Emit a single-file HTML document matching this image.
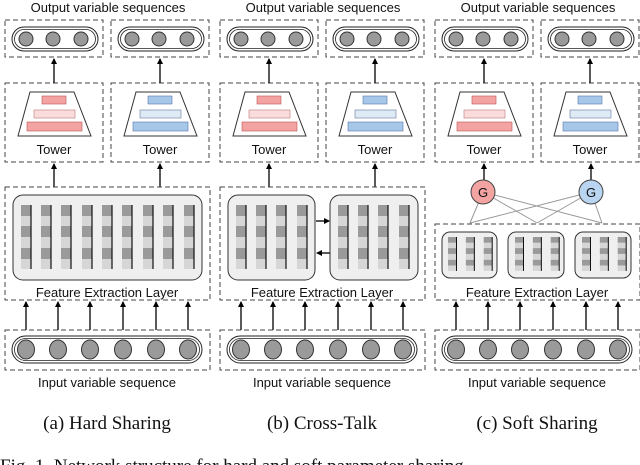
<!DOCTYPE html>
<html><head><meta charset="utf-8"><style>
html,body{margin:0;padding:0;background:#fff;width:640px;height:465px;overflow:hidden}
svg{display:block}
.t{font-family:"Liberation Sans",sans-serif;font-size:13px;fill:#111;text-anchor:middle}
.c{font-family:"Liberation Serif",serif;font-size:19px;fill:#111;text-anchor:middle}
</style></head><body>
<svg width="640" height="465" viewBox="0 0 640 465" xmlns="http://www.w3.org/2000/svg">
<defs>
<marker id="ah" markerWidth="6" markerHeight="6" refX="5" refY="3" orient="auto" markerUnits="userSpaceOnUse"><path d="M0,0 L6,3 L0,6 z" fill="#000"/></marker>
<g id="col">
<rect x="0" y="0" width="10" height="11" fill="#9a9a9a"/><rect x="0" y="11" width="10" height="10" fill="#d6d6d6"/>
<rect x="0" y="21" width="10" height="11" fill="#9a9a9a"/><rect x="0" y="32" width="10" height="11" fill="#d6d6d6"/>
<rect x="0" y="43" width="10" height="11" fill="#9a9a9a"/><rect x="0" y="54" width="10" height="10" fill="#d6d6d6"/>
<line x1="10" y1="0" x2="10" y2="64" stroke="#111" stroke-width="1.2"/>
</g>
<g id="outp">
<rect x="0" y="0" width="98" height="37" fill="none" stroke="#444" stroke-dasharray="5,3"/>
<rect x="7" y="7" width="86" height="24" rx="12" fill="#fff" stroke="#222"/>
<rect x="9.5" y="9.5" width="81" height="19" rx="9.5" fill="none" stroke="#222" stroke-width="0.8"/>
<circle cx="21" cy="19" r="7" fill="#9a9a9a" stroke="#333"/>
<circle cx="48" cy="19" r="7" fill="#9a9a9a" stroke="#333"/>
<circle cx="76" cy="19" r="7" fill="#9a9a9a" stroke="#333"/>
</g>
<g id="twbox">
<rect x="0" y="0" width="98" height="79" fill="none" stroke="#444" stroke-dasharray="5,3"/>
<path d="M25,9 L69,9 L86,53 L13,53 Z" fill="#fff" stroke="#333"/>
<text class="t" x="49" y="71">Tower</text>
</g>
<g id="inp">
<rect x="0" y="0" width="205" height="40" fill="none" stroke="#444" stroke-dasharray="5,3"/>
<rect x="7" y="6" width="190" height="27" rx="13.5" fill="#fff" stroke="#222"/>
<rect x="9.5" y="8.5" width="185" height="22" rx="11" fill="none" stroke="#222" stroke-width="0.8"/>
<ellipse cx="21" cy="19.5" rx="8.5" ry="9.5" fill="#9a9a9a" stroke="#333"/>
<ellipse cx="53" cy="19.5" rx="8.5" ry="9.5" fill="#9a9a9a" stroke="#333"/>
<ellipse cx="85" cy="19.5" rx="8.5" ry="9.5" fill="#9a9a9a" stroke="#333"/>
<ellipse cx="118" cy="19.5" rx="8.5" ry="9.5" fill="#9a9a9a" stroke="#333"/>
<ellipse cx="151" cy="19.5" rx="8.5" ry="9.5" fill="#9a9a9a" stroke="#333"/>
<ellipse cx="183" cy="19.5" rx="8.5" ry="9.5" fill="#9a9a9a" stroke="#333"/>
</g>
<g id="inarr" stroke="#000" stroke-width="1.3" marker-end="url(#ah)">
<line x1="21" y1="330" x2="21" y2="302"/><line x1="53" y1="330" x2="53" y2="302"/>
<line x1="85" y1="330" x2="85" y2="302"/><line x1="118" y1="330" x2="118" y2="302"/>
<line x1="151" y1="330" x2="151" y2="302"/><line x1="183" y1="330" x2="183" y2="302"/>
</g>
<g id="red">
<rect x="37" y="13" width="24" height="8" fill="#f4a3a3" stroke="#b55" stroke-width="0.6"/>
<rect x="29" y="27" width="41" height="8" fill="#fbdcdc" stroke="#b77" stroke-width="0.6"/>
<rect x="22" y="39" width="55" height="9" fill="#f4a3a3" stroke="#b55" stroke-width="0.6"/>
</g>
<g id="blue">
<rect x="37" y="13" width="24" height="8" fill="#a6c7e8" stroke="#57a" stroke-width="0.6"/>
<rect x="29" y="27" width="41" height="8" fill="#deebf7" stroke="#679" stroke-width="0.6"/>
<rect x="22" y="39" width="55" height="9" fill="#a6c7e8" stroke="#57a" stroke-width="0.6"/>
</g>
<g id="upper">
<text class="t" x="103" y="12">Output variable sequences</text>
<use href="#outp" x="0" y="20"/><use href="#outp" x="106" y="20"/>
<use href="#twbox" x="0" y="83"/><use href="#twbox" x="106" y="83"/>
<use href="#red" x="0" y="83"/><use href="#blue" x="106" y="83"/>
<g stroke="#000" stroke-width="1.3" marker-end="url(#ah)">
<line x1="49" y1="83" x2="49" y2="59"/><line x1="155" y1="83" x2="155" y2="59"/>
</g>
</g>
</defs>

<!-- Panel a -->
<use href="#upper" x="5" y="0"/>
<g stroke="#000" stroke-width="1.3" marker-end="url(#ah)">
<line x1="54" y1="187" x2="54" y2="164"/><line x1="160" y1="187" x2="160" y2="164"/>
</g>
<rect x="5" y="187" width="205" height="113" fill="none" stroke="#444" stroke-dasharray="5,3"/>
<rect x="13" y="195" width="189" height="85" rx="10" fill="#efefef" stroke="#333"/>
<use href="#col" x="21" y="205"/><use href="#col" x="41" y="205"/><use href="#col" x="61" y="205"/>
<use href="#col" x="82" y="205"/><use href="#col" x="102" y="205"/><use href="#col" x="122" y="205"/>
<use href="#col" x="143" y="205"/><use href="#col" x="163" y="205"/><use href="#col" x="184" y="205"/>
<text class="t" x="107" y="297">Feature Extraction Layer</text>
<use href="#inarr" x="5" y="0"/>
<use href="#inp" x="5" y="330"/>
<text class="t" x="107" y="387">Input variable sequence</text>
<text class="c" x="107" y="429">(a)  Hard Sharing</text>

<!-- Panel b -->
<use href="#upper" x="220" y="0"/>
<g stroke="#000" stroke-width="1.3" marker-end="url(#ah)">
<line x1="269" y1="187" x2="269" y2="164"/><line x1="375" y1="187" x2="375" y2="164"/>
</g>
<rect x="220" y="187" width="205" height="113" fill="none" stroke="#444" stroke-dasharray="5,3"/>
<rect x="228" y="195" width="87" height="85" rx="10" fill="#efefef" stroke="#333"/>
<rect x="330" y="195" width="88" height="85" rx="10" fill="#efefef" stroke="#333"/>
<use href="#col" x="236" y="205"/><use href="#col" x="256" y="205"/><use href="#col" x="276" y="205"/><use href="#col" x="297" y="205"/>
<use href="#col" x="338" y="205"/><use href="#col" x="358" y="205"/><use href="#col" x="378" y="205"/><use href="#col" x="399" y="205"/>
<g stroke="#000" stroke-width="1.3" marker-end="url(#ah)">
<line x1="316" y1="221" x2="329" y2="221"/><line x1="330" y1="253" x2="317" y2="253"/>
</g>
<text class="t" x="322" y="297">Feature Extraction Layer</text>
<use href="#inarr" x="220" y="0"/>
<use href="#inp" x="220" y="330"/>
<text class="t" x="322" y="387">Input variable sequence</text>
<text class="c" x="322" y="429">(b)  Cross-Talk</text>

<!-- Panel c -->
<use href="#upper" x="435" y="0"/>
<g stroke="#999" stroke-width="1">
<line x1="483" y1="192" x2="470" y2="223"/><line x1="483" y1="192" x2="537" y2="223"/><line x1="483" y1="192" x2="602" y2="223"/>
<line x1="591" y1="192" x2="470" y2="223"/><line x1="591" y1="192" x2="537" y2="223"/><line x1="591" y1="192" x2="602" y2="223"/>
</g>
<g stroke="#000" stroke-width="1.3" marker-end="url(#ah)">
<line x1="484" y1="180" x2="484" y2="164"/><line x1="591" y1="180" x2="591" y2="164"/>
</g>
<circle cx="483" cy="192" r="12" fill="#f4a3a3" stroke="#444"/>
<text class="t" x="483" y="197">G</text>
<circle cx="591" cy="192" r="12" fill="#b9d5f1" stroke="#444"/>
<text class="t" x="591" y="197">G</text>
<rect x="435" y="224" width="205" height="76" fill="none" stroke="#444" stroke-dasharray="5,3"/>
<rect x="442" y="232" width="55" height="46" rx="8" fill="#efefef" stroke="#333"/>
<rect x="508" y="232" width="56" height="46" rx="8" fill="#efefef" stroke="#333"/>
<rect x="575" y="232" width="56" height="46" rx="8" fill="#efefef" stroke="#333"/>
<g transform="translate(448,237) scale(0.85,0.53)"><use href="#col" x="0"/><use href="#col" x="21"/><use href="#col" x="42"/></g>
<g transform="translate(515,237) scale(0.85,0.53)"><use href="#col" x="0"/><use href="#col" x="21"/><use href="#col" x="42"/></g>
<g transform="translate(582,237) scale(0.85,0.53)"><use href="#col" x="0"/><use href="#col" x="21"/><use href="#col" x="42"/></g>
<text class="t" x="537" y="297">Feature Extraction Layer</text>
<use href="#inarr" x="435" y="0"/>
<use href="#inp" x="435" y="330"/>
<text class="t" x="537" y="387">Input variable sequence</text>
<text class="c" x="537" y="429">(c)  Soft Sharing</text>

<text x="0" y="472" style="font-family:'Liberation Serif',serif;font-size:19px;fill:#111">Fig. 1.   Network structure for hard and soft parameter sharing</text>
</svg>
</body></html>
